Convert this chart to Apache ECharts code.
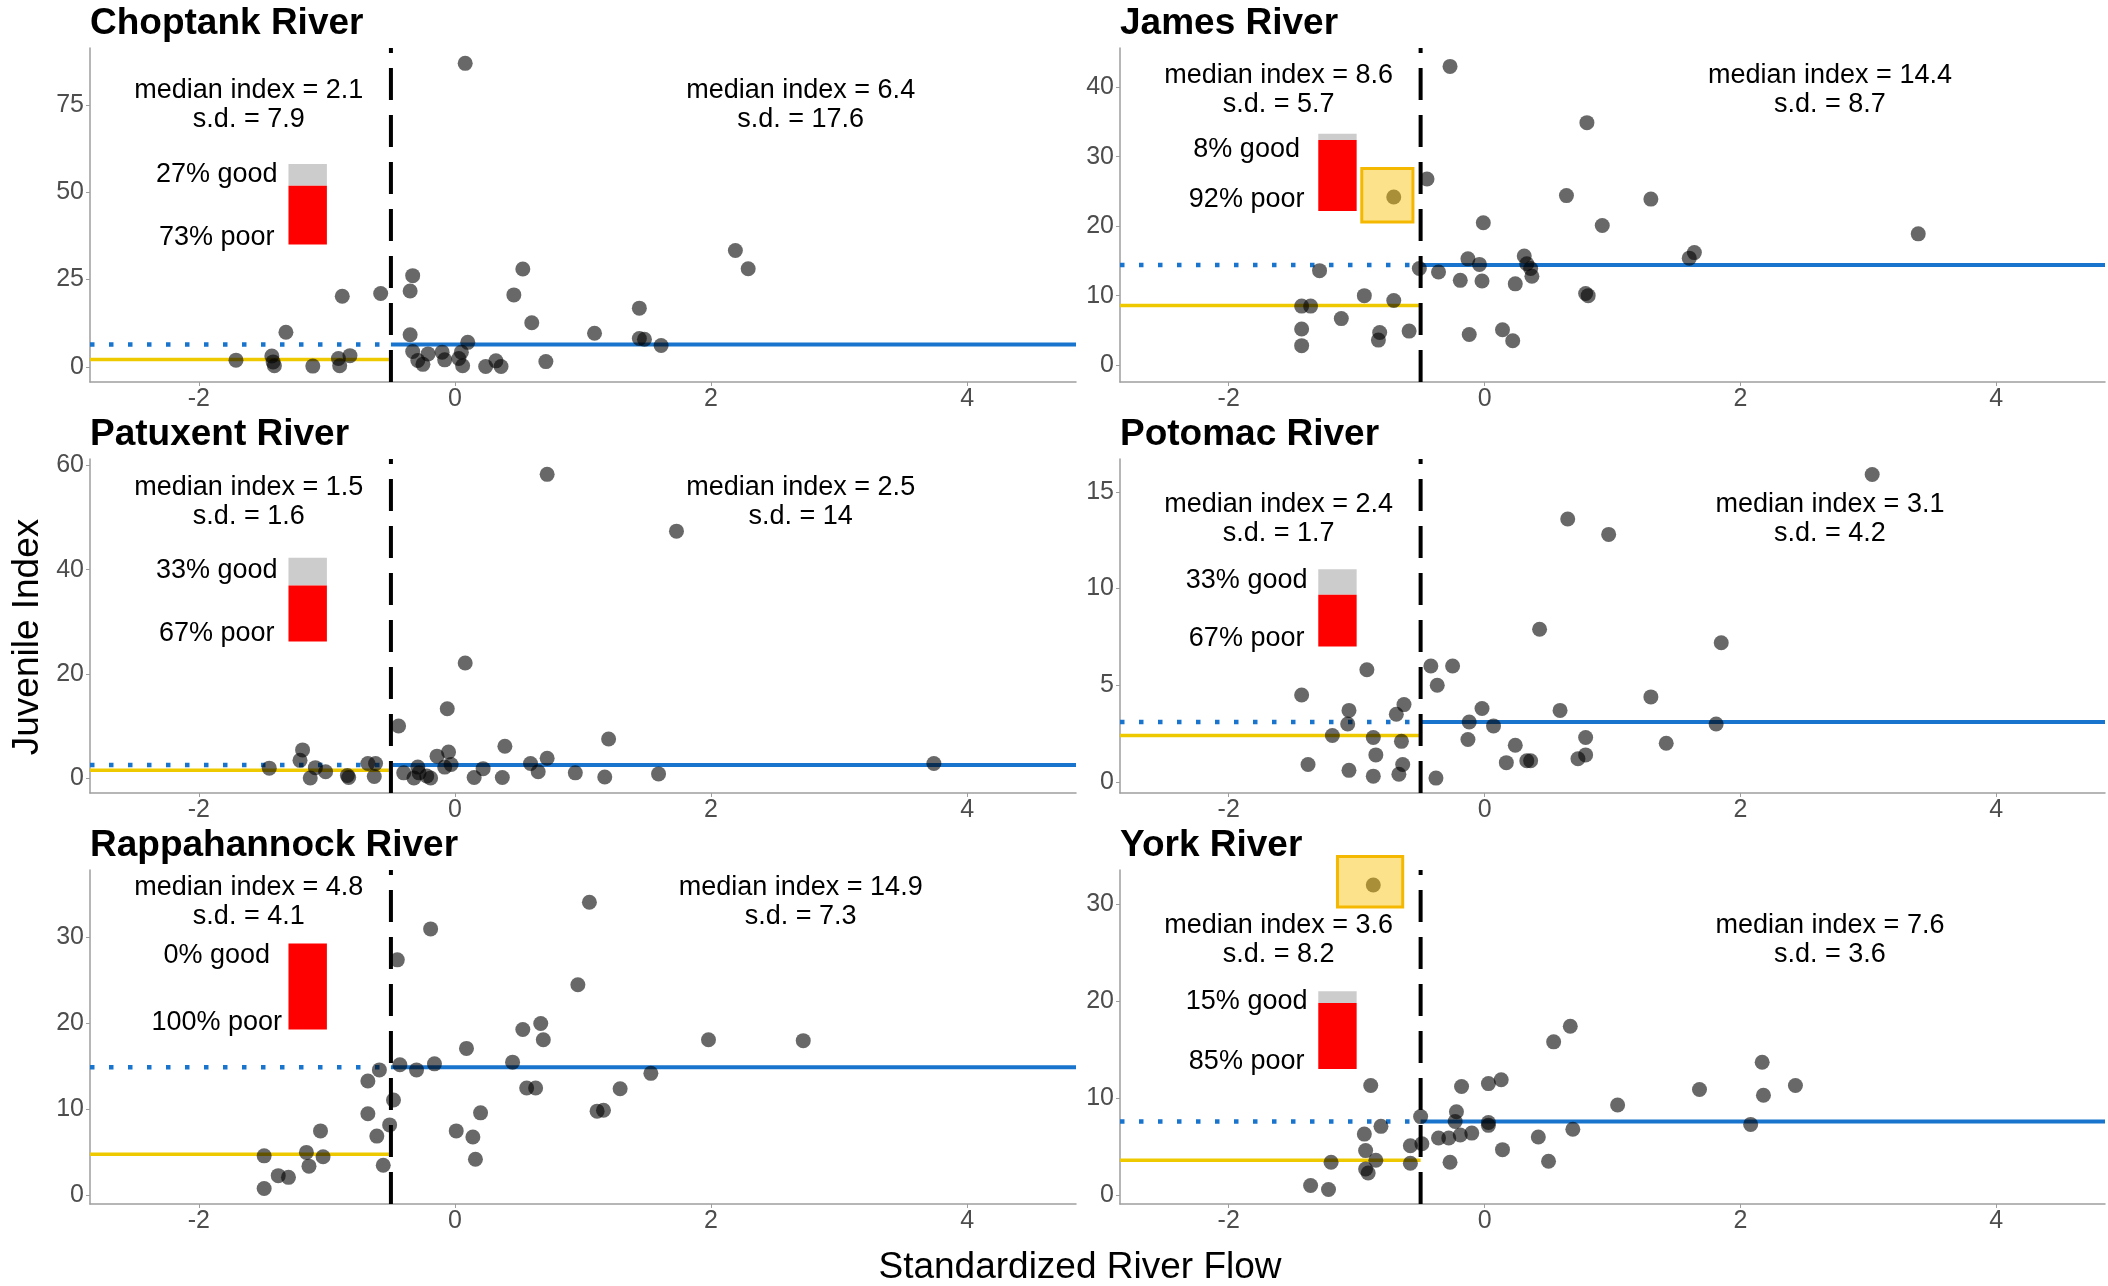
<!DOCTYPE html>
<html style="height: 100%">
<head>
<meta charset="utf-8">
<script src="https://cdn.jsdelivr.net/npm/echarts@6/dist/echarts.min.js"></script>
</head>
<body style="height: 100%; margin: 0; background: #fff">
<div id="container" style="width: 2108px; height: 1286px;"></div>
<script type="text/javascript">
// panels, left to right then top to bottom
var rivers = ['Choptank River', 'James River', 'Patuxent River', 'Potomac River', 'Rappahannock River', 'York River'];

// flow threshold and summary numbers per river
var flowCut = -0.5;
var medLow = [2.1, 8.6, 1.5, 2.4, 4.8, 3.6];
var sdLow = [7.9, 5.7, 1.6, 1.7, 4.1, 8.2];
var medHigh = [6.4, 14.4, 2.5, 3.1, 14.9, 7.6];
var sdHigh = [17.6, 8.7, 14, 4.2, 7.3, 3.6];
var goodPct = [27, 8, 33, 33, 0, 15];

// points: [standardized flow, juvenile index]
var choptank = [[-1.71,1.9],[-1.43,3.1],[-1.42,1.4],[-1.41,0.3],[-1.32,9.9],[-1.11,0.2],[-0.91,2.4],[-0.90,0.3],[-0.82,3.2],[-0.88,20.2],[-0.58,21.0],
  [0.08,86.9],[2.19,33.3],[2.29,28.1],[0.53,28.0],[-0.33,26.1],[-0.35,21.7],[0.46,20.6],[1.44,16.8],[0.60,12.6],[1.09,9.6],[-0.35,9.2],
  [1.44,8.1],[1.48,7.9],[1.61,6.1],[0.10,7.0],[-0.33,4.4],[-0.21,3.7],[-0.10,4.2],[-0.29,1.8],[-0.25,0.7],[-0.08,2.0],[0.05,4.2],
  [0.06,0.3],[0.03,2.4],[0.24,0.1],[0.32,1.7],[0.36,0.1],[0.71,1.5]];
var james = [[-1.29,13.6],[-0.94,10.0],[-0.71,9.3],[-1.43,8.5],[-1.36,8.5],[-1.12,6.7],[-1.43,5.2],[-0.82,4.7],[-0.83,3.6],[-0.59,4.9],[-1.43,2.8],[-0.71,24.2],
  [-0.27,43.0],[0.80,34.9],[-0.45,26.8],[0.64,24.4],[1.30,23.9],[-0.01,20.5],[0.92,20.1],[3.39,18.9],[1.64,16.2],[1.60,15.4],[0.31,15.7],
  [-0.13,15.3],[-0.04,14.5],[0.33,14.6],[0.36,13.9],[-0.51,13.9],[-0.36,13.4],[0.37,12.8],[-0.19,12.2],[-0.02,12.1],[0.24,11.7],
  [0.79,10.3],[0.81,10.0],[-0.12,4.4],[0.14,5.1],[0.22,3.5]];
var patuxent = [[-1.45,1.9],[-1.21,3.4],[-1.19,5.4],[-1.13,0.0],[-1.09,2.0],[-1.01,1.2],[-0.84,0.5],[-0.83,0.1],[-0.68,2.8],[-0.62,2.8],[-0.63,0.3],
  [0.72,58.3],[1.73,47.4],[0.08,22.1],[-0.06,13.3],[-0.44,10.0],[1.20,7.5],[0.39,6.1],[0.72,3.8],[-0.14,4.2],[-0.05,5.0],[-0.03,2.6],
  [-0.40,1.0],[-0.29,2.1],[-0.28,1.0],[-0.32,0.0],[-0.19,0.0],[-0.22,0.4],[-0.08,2.1],[0.15,0.1],[0.22,1.8],[0.37,0.1],[0.59,2.8],
  [0.65,1.2],[0.94,1.0],[1.17,0.2],[1.59,0.8],[3.74,2.8]];
var potomac = [[-0.92,5.8],[-1.43,4.5],[-0.63,4.0],[-0.69,3.5],[-1.06,3.7],[-1.07,3.0],[-1.19,2.4],[-0.87,2.3],[-0.65,2.1],[-0.85,1.4],[-1.38,0.9],
  [-1.06,0.6],[-0.87,0.3],[-0.67,0.4],[-0.64,0.9],
  [3.03,15.9],[0.65,13.6],[0.97,12.8],[0.43,7.9],[1.85,7.2],[-0.42,6.0],[-0.25,6.0],[-0.37,5.0],[1.30,4.4],[-0.02,3.8],[0.59,3.7],
  [-0.12,3.1],[0.07,2.9],[1.81,3.0],[-0.13,2.2],[0.24,1.9],[0.79,2.3],[1.42,2.0],[-0.38,0.2],[0.17,1.0],[0.33,1.1],[0.36,1.1],
  [0.73,1.2],[0.79,1.4]];
var rappahannock = [[-0.59,14.6],[-0.68,13.3],[-0.68,9.5],[-1.05,7.5],[-0.61,6.9],[-1.49,4.6],[-1.16,5.0],[-1.03,4.5],[-1.14,3.4],[-0.56,3.5],
  [-1.38,2.3],[-1.30,2.1],[-1.49,0.8],
  [1.05,34.1],[-0.19,31.0],[-0.45,27.4],[0.96,24.5],[0.67,20.0],[0.53,19.3],[0.69,18.1],[1.98,18.1],[2.72,18.0],[0.09,17.1],[0.45,15.5],
  [-0.16,15.3],[-0.43,15.2],[-0.30,14.6],[1.53,14.2],[0.56,12.5],[0.63,12.5],[1.29,12.4],[-0.48,11.1],[1.11,9.8],[1.16,9.9],
  [0.20,9.6],[-0.51,8.2],[0.01,7.5],[0.14,6.8],[0.16,4.2]];
var york = [[-0.87,31.95],[-0.89,11.3],[-0.81,7.1],[-0.94,6.3],[-0.58,5.1],[-0.93,4.6],[-0.85,3.6],[-1.20,3.4],[-0.58,3.3],[-0.93,2.7],[-0.91,2.3],
  [-1.36,1.0],[-1.22,0.6],
  [0.67,17.4],[0.54,15.8],[2.17,13.7],[0.13,11.9],[0.03,11.5],[-0.18,11.2],[2.43,11.3],[1.68,10.9],[2.18,10.3],[1.04,9.3],[-0.22,8.6],
  [-0.50,8.1],[-0.23,7.6],[0.03,7.5],[0.03,7.2],[2.08,7.3],[0.69,6.8],[-0.10,6.4],[-0.19,6.2],[-0.28,5.9],[-0.36,5.9],[0.42,6.0],
  [-0.49,5.3],[0.14,4.7],[-0.27,3.4],[0.50,3.5]];
var points = [choptank, james, patuxent, potomac, rappahannock, york];

// axis ranges and tick labels
var xMin = -2.85, xMax = 4.85;
var xTicks = [-2, 0, 2, 4];
var yMin = [-4.35, -2.43, -2.87, -0.57, -1.0, -0.9];
var yMax = [91.3, 45.65, 61.25, 16.7, 37.85, 33.5];
var yTicks = [[0, 25, 50, 75], [0, 10, 20, 30, 40], [0, 20, 40, 60], [0, 5, 10, 15], [0, 10, 20, 30], [0, 10, 20, 30]];

// where the annotations sit in each panel (data units)
var annot = [
  {medY: 75, goodY: 55.2, poorY: 37.0, barLo: 35.0, barHi: 58.1},
  {medY: 39.65, goodY: 31.1, poorY: 23.8, barLo: 22.2, barHi: 33.3, box: [-0.96, -0.56, 20.6, 28.3]},
  {medY: 53, goodY: 39.8, poorY: 27.8, barLo: 26.2, barHi: 42.3},
  {medY: 13.6, goodY: 10.4, poorY: 7.4, barLo: 7.0, barHi: 11.0},
  {medY: 34.1, goodY: 27.9, poorY: 20.1, barLo: 19.3, barHi: 29.3},
  {medY: 26.3, goodY: 19.9, poorY: 13.8, barLo: 13.0, barHi: 21.0, box: [-1.15, -0.64, 29.7, 34.9]}
];

var font = '"Liberation Sans", Arial, sans-serif';
var colLeft = [90, 1120], gridW = [986, 985];
var rowTop = [48, 459, 870], gridH = 334;

var dom = document.getElementById("container");
var myChart = echarts.init(dom);

function makeRender(items) {
	return function (params, api) {
		var it = items[params.dataIndex];
		if (it.kind == 'text') {
			var p = api.coord([it.x, it.y]);
			return {
				type: 'text',
				style: {
					text: it.text, x: p[0], y: p[1], align: 'center', verticalAlign: 'middle',
					fontSize: 27, fontFamily: font, fill: '#000', lineHeight: 29
				}
			};
		}
		var a = api.coord([it.x0, it.y1]);
		var b = api.coord([it.x1, it.y0]);
		return {
			type: 'rect',
			shape: {x: a[0], y: a[1], width: b[0] - a[0], height: b[1] - a[1]},
			style: {fill: it.fill, stroke: it.stroke || null, lineWidth: it.stroke ? 3 : 0}
		};
	};
}

function seg(i, data, color, width, dash) {
	return {
		type: 'line', xAxisIndex: i, yAxisIndex: i, data: data, symbol: 'none', silent: true, z: 2,
		lineStyle: {color: color, width: width, type: dash || 'solid', cap: 'butt'}
	};
}

var grids = [], xAxes = [], yAxes = [], titles = [], series = [];
for (var i = 0; i < 6; i++) {
	var col = i % 2, row = Math.floor(i / 2);
	grids.push({left: colLeft[col], top: rowTop[row], width: gridW[col], height: gridH});
	titles.push({
		text: rivers[i], left: colLeft[col], top: rowTop[row] - 43, padding: 0,
		textStyle: {fontSize: 37, fontWeight: 'bold', color: '#000', fontFamily: font}
	});
	xAxes.push({
		type: 'value', gridIndex: i, min: xMin, max: xMax,
		splitLine: {show: false},
		axisLine: {onZero: false, lineStyle: {color: '#9e9e9e', width: 1.5}},
		axisTick: {length: 4, customValues: xTicks, lineStyle: {color: '#9e9e9e'}},
		axisLabel: {customValues: xTicks, margin: 5, fontSize: 25, color: '#4d4d4d', fontFamily: font}
	});
	yAxes.push({
		type: 'value', gridIndex: i, min: yMin[i], max: yMax[i],
		splitLine: {show: false},
		axisLine: {show: true, onZero: false, lineStyle: {color: '#9e9e9e', width: 1.5}},
		axisTick: {show: true, length: 4, customValues: yTicks[i], lineStyle: {color: '#9e9e9e'}},
		axisLabel: {customValues: yTicks[i], margin: 6, fontSize: 25, color: '#4d4d4d', fontFamily: font}
	});

	// median lines and the flow threshold
	series.push(seg(i, [[xMin, medHigh[i]], [flowCut, medHigh[i]]], '#1874CD', 4.5, [4.5, 14.5]));
	series.push(seg(i, [[flowCut, medHigh[i]], [xMax, medHigh[i]]], '#1874CD', 4));
	series.push(seg(i, [[xMin, medLow[i]], [flowCut, medLow[i]]], '#EEC900', 3.5));
	series.push(seg(i, [[flowCut, yMin[i]], [flowCut, yMax[i]]], '#000', 4, [32, 15]));

	series.push({
		type: 'scatter', xAxisIndex: i, yAxisIndex: i, data: points[i], z: 3,
		symbolSize: 15, itemStyle: {color: 'rgba(0,0,0,0.74)'}
	});

	// texts, good/poor bar and the highlight box
	var an = annot[i];
	var split = an.barLo + (an.barHi - an.barLo) * (100 - goodPct[i]) / 100;
	var items = [
		{kind: 'text', x: -1.61, y: an.medY, text: 'median index = ' + medLow[i] + '\ns.d. = ' + sdLow[i]},
		{kind: 'text', x: 2.7, y: an.medY, text: 'median index = ' + medHigh[i] + '\ns.d. = ' + sdHigh[i]},
		{kind: 'text', x: -1.86, y: an.goodY, text: goodPct[i] + '% good'},
		{kind: 'text', x: -1.86, y: an.poorY, text: (100 - goodPct[i]) + '% poor'},
		{kind: 'rect', x0: -1.3, x1: -1.0, y0: split, y1: an.barHi, fill: '#cccccc'},
		{kind: 'rect', x0: -1.3, x1: -1.0, y0: an.barLo, y1: split, fill: '#ff0000'}
	];
	if (an.box) {
		items.push({kind: 'rect', x0: an.box[0], x1: an.box[1], y0: an.box[2], y1: an.box[3],
			fill: 'rgba(250,190,0,0.45)', stroke: '#f5b800'});
	}
	series.push({
		type: 'custom', xAxisIndex: i, yAxisIndex: i, z: 5, silent: true,
		data: items.map(function (it) { return it.kind == 'text' ? [it.x, it.y] : [it.x0, it.y0]; }),
		renderItem: makeRender(items)
	});
}

option = {
	backgroundColor: '#fff',
	animation: false,
	title: titles,
	grid: grids,
	xAxis: xAxes,
	yAxis: yAxes,
	series: series,
	graphic: [{
		type: 'text', x: 1080, y: 1268,
		style: {text: 'Standardized River Flow', align: 'center', verticalAlign: 'middle', fontSize: 37, fontFamily: font, fill: '#000'}
	}, {
		type: 'text', x: 28, y: 637, rotation: Math.PI / 2,
		style: {text: 'Juvenile Index', align: 'center', verticalAlign: 'middle', fontSize: 37, fontFamily: font, fill: '#000'}
	}]
};
if (option && typeof option === "object") {
	myChart.setOption(option, true);
}
</script>
</body>
</html>
